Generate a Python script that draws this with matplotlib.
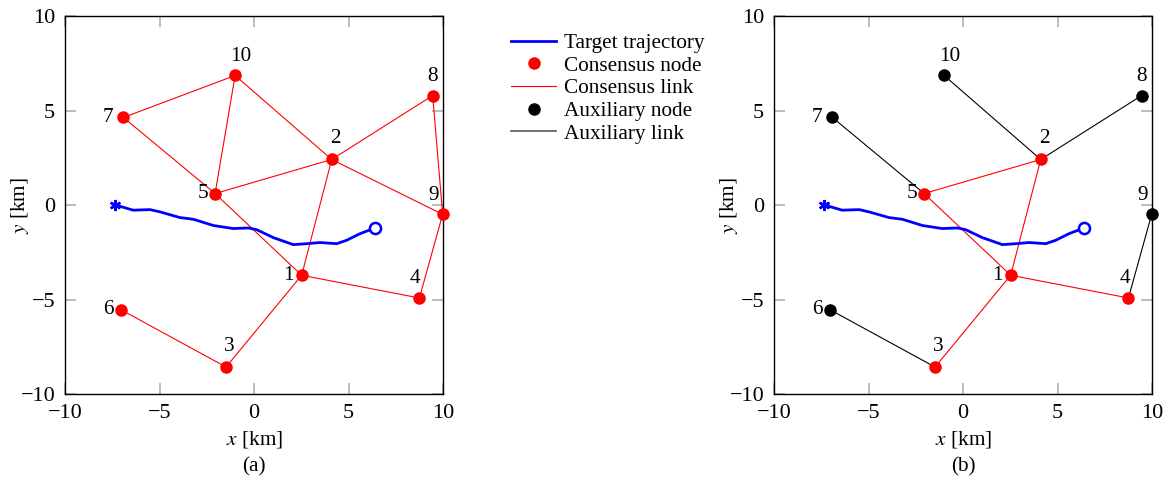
import matplotlib.pyplot as plt
from matplotlib.lines import Line2D

plt.rcParams['font.family'] = ['Liberation Serif', 'DejaVu Serif']
plt.rcParams['mathtext.fontset'] = 'stix'
plt.rcParams['font.size'] = 15.3

# node positions [km]
node_ids = [1, 2, 3, 4, 5, 6, 7, 8, 9, 10]
node_x = [2.52, 4.11, -1.48, 8.75, -2.06, -7.04, -6.91, 9.45, 9.98, -1.00]
node_y = [-3.70, 2.42, -8.55, -4.90, 0.62, -5.52, 4.64, 5.80, -0.48, 6.86]

# target trajectory [km]
traj_x = [-7.35, -6.39, -5.50, -4.97, -3.92, -3.21, -2.15, -1.10, -0.30, 0.14,
          1.02, 2.08, 2.79, 3.49, 4.38, 4.90, 5.61, 6.40]
traj_y = [0.02, -0.26, -0.23, -0.35, -0.65, -0.74, -1.07, -1.23, -1.20, -1.29,
          -1.71, -2.08, -2.03, -1.97, -2.03, -1.85, -1.50, -1.20]

# (a): all nodes are consensus nodes
links_a = [(7, 10), (7, 5), (10, 5), (10, 2), (5, 2), (5, 1), (2, 1), (2, 8),
           (2, 9), (8, 9), (9, 4), (1, 4), (1, 3), (3, 6)]
# (b): consensus subset + auxiliary nodes
consensus_b = [1, 2, 3, 4, 5]
links_b = [(5, 2), (5, 1), (2, 1), (1, 3), (1, 4)]
aux_links_b = [(7, 5), (10, 2), (8, 2), (9, 4), (6, 3)]

# label offsets in pixels (dx, dy), screen up = positive
label_off = {1: (-13, 0), 2: (4, 21), 3: (3, 21), 4: (-4, 19), 5: (-12, 0),
             6: (-13, 0), 7: (-15, 0), 8: (0, 19), 9: (-9, 19), 10: (6, 19)}

pos = {n: (x, y) for n, x, y in zip(node_ids, node_x, node_y)}


def draw(ax, red_nodes, red_links, black_links, caption):
    for a, b in black_links:
        ax.plot([pos[a][0], pos[b][0]], [pos[a][1], pos[b][1]], color='k',
                lw=0.8, clip_on=False, zorder=2)
    for a, b in red_links:
        ax.plot([pos[a][0], pos[b][0]], [pos[a][1], pos[b][1]], color='red',
                lw=0.8, clip_on=False, zorder=2)
    ax.plot(traj_x, traj_y, color='blue', lw=2.0, zorder=3)
    ax.plot(traj_x[0], traj_y[0], marker=(6, 2, 0), ms=8, mew=1.8,
            color='blue', zorder=4)
    ax.plot(traj_x[-1], traj_y[-1], marker='o', ms=8, mfc='white', mew=1.8,
            mec='blue', zorder=4)
    for n in node_ids:
        c = 'red' if n in red_nodes else 'black'
        ax.plot(pos[n][0], pos[n][1], 'o', color=c, ms=8, clip_on=False,
                zorder=5)
        ax.annotate(str(n), pos[n], xytext=label_off[n],
                    textcoords='offset pixels', ha='center', va='center',
                    annotation_clip=False)
    ax.set_xlim(-10, 10)
    ax.set_ylim(-10, 10)
    ax.set_xticks([-10, -5, 0, 5, 10])
    ax.set_yticks([-10, -5, 0, 5, 10])
    ax.tick_params(direction='in', length=8, width=1.2, color='#b0b0b0',
                   top=True, right=True, pad=7, labelsize=16)
    for s in ax.spines.values():
        s.set_linewidth(1.0)
    ax.set_xlabel('$x$ [km]', va='center')
    ax.set_ylabel('$y$ [km]', va='center')
    ax.xaxis.set_label_coords(0.5, -0.118)
    ax.yaxis.set_label_coords(-0.119, 0.5)
    ax.text(0.5, -0.192, caption, transform=ax.transAxes, ha='center',
            va='center')


fig = plt.figure(figsize=(11.65, 4.87), dpi=100)
ax1 = fig.add_axes([0.0558, 0.190, 0.3245, 0.777])
ax2 = fig.add_axes([0.6644, 0.190, 0.3245, 0.777])

draw(ax1, node_ids, links_a, [], '(a)')
draw(ax2, consensus_b, links_b, aux_links_b, '(b)')

handles = [
    Line2D([], [], color='blue', lw=2.0),
    Line2D([], [], color='red', marker='o', ms=8, ls='none'),
    Line2D([], [], color='red', lw=0.8),
    Line2D([], [], color='black', marker='o', ms=8, ls='none'),
    Line2D([], [], color='#555555', lw=1.2),
]
labels = ['Target trajectory', 'Consensus node', 'Consensus link',
          'Auxiliary node', 'Auxiliary link']
fig.legend(handles, labels, loc='upper left', bbox_to_anchor=(0.4224, 0.971),
           frameon=False, handlelength=2.1, handletextpad=0.4,
           labelspacing=0.13, numpoints=1)

fig.savefig('out.png', dpi=100)
